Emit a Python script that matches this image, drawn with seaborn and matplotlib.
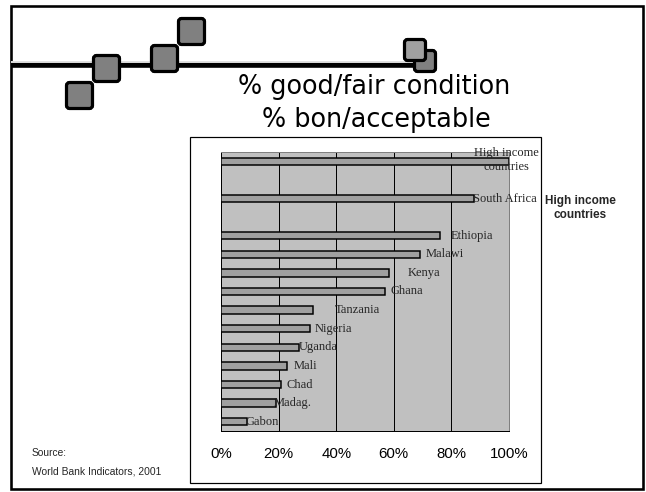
import matplotlib
matplotlib.use("Agg")
import matplotlib.pyplot as plt
from matplotlib.patches import Rectangle, FancyBboxPatch
import pandas as pd
import seaborn as sns

# Share of roads in good or fair condition
countries = ["High income\ncountries", "South Africa", "Ethiopia", "Malawi", "Kenya",
             "Ghana", "Tanzania", "Nigeria", "Uganda", "Mali", "Chad", "Madag.", "Gabon"]
condition_pct = [100, 88, 76, 69, 58.5, 57, 32, 31, 27, 23, 21, 19, 9]
tick_values = [0, 20, 40, 60, 80, 100]
tick_labels = ["0%", "20%", "40%", "60%", "80%", "100%"]

# where each country name sits along the value axis (percent)
label_centers = [99, 98.6, 87.2, 77.8, 70.5, 64.6, 47.2, 39.2, 33.7, 29.2, 27.4, 25.0, 14.2]

sns.set_theme(style="white")
plt.rcParams["font.family"] = ["Liberation Sans", "DejaVu Sans"]

W, H = 646, 492
PT = 0.72  # points per pixel at 100 dpi
fig = plt.figure(figsize=(W / 100, H / 100), dpi=100)
fig.patch.set_facecolor("white")

# ---- slide layer, in pixel coordinates ----
deco = fig.add_axes([0, 0, 1, 1])
deco.set_xlim(0, W)
deco.set_ylim(H, 0)
deco.axis("off")

deco.add_patch(Rectangle((11, 6), 632, 483, fill=False, ec="black", lw=2.6 * PT, zorder=0))

# double rule across the top
deco.plot([11, 415], [63.6, 63.6], color="black", lw=6.6 * PT, solid_capstyle="butt", zorder=1)
deco.plot([11, 415], [62.4, 62.4], color="white", lw=1.7 * PT, solid_capstyle="butt", zorder=1)


def square(x0, y0, size, fc):
    deco.add_patch(FancyBboxPatch((x0 + 1.5, y0 + 1.5), size - 3, size - 3,
                                  boxstyle="round,pad=0,rounding_size=3",
                                  fc=fc, ec="black", lw=3.2 * PT, zorder=2))


square(65, 81, 29, "#808080")
square(92, 54, 29, "#808080")
square(150, 44, 29, "#808080")
square(177, 17, 29, "#808080")
square(413, 49, 24, "#808080")
square(403, 38, 24, "#a0a0a0")

deco.text(374, 94, "% good/fair condition", ha="center", va="baseline",
          fontsize=18.4, family=["DejaVu Sans"], color="black")
deco.text(376, 127, "% bon/acceptable", ha="center", va="baseline",
          fontsize=18.4, family=["DejaVu Sans"], color="black")

# chart frame
deco.add_patch(Rectangle((190, 137), 351, 346, fc="white", ec="black", lw=1.2 * PT, zorder=1))

deco.text(580, 208, "High income\ncountries", ha="center", va="center",
          fontsize=8.5, fontweight="bold", linespacing=1.15, zorder=3)

deco.text(32, 453, "Source:", ha="left", va="center", fontsize=7.4, zorder=3)
deco.text(32, 472, "World Bank Indicators, 2001", ha="left", va="center", fontsize=7.4, zorder=3)

# ---- bar chart ----
ax = fig.add_axes([221 / W, 61 / H, 288 / W, 279 / H])
df = pd.DataFrame({"country": countries, "pct": condition_pct})
order = [countries[0], " ", countries[1], "  "] + countries[2:]

sns.barplot(data=df, x="pct", y="country", order=order, orient="h",
            color="#a0a0a0", saturation=1, width=0.4,
            edgecolor="black", linewidth=1.5 * PT, ax=ax, zorder=3)

ax.set_facecolor("#c0c0c0")
ax.set_xlim(0, 100)
ax.set_ylim(len(order) - 0.5, -0.5)
ax.set_xticks(tick_values)
ax.set_xticklabels(tick_labels)
ax.set_yticks([])
ax.set_xlabel("")
ax.set_ylabel("")
ax.grid(axis="x", color="black", lw=1 * PT)
ax.grid(axis="y", visible=False)
ax.set_axisbelow(True)

for side in ["top", "right"]:
    ax.spines[side].set_color("#808080")
    ax.spines[side].set_linewidth(1 * PT)
for side in ["left", "bottom"]:
    ax.spines[side].set_color("black")
    ax.spines[side].set_linewidth(1 * PT)

ax.tick_params(axis="x", direction="out", length=5 * PT, width=1 * PT, color="black",
               pad=8, labelsize=10.8, labelcolor="black")
ax.tick_params(axis="y", length=0)

for name, xc in zip(countries, label_centers):
    ax.text(xc, order.index(name) - (0.08 if "\n" in name else 0), name,
            ha="center", va="center",
            family=["Liberation Serif", "DejaVu Serif"], fontsize=9,
            linespacing=1.2, clip_on=False, zorder=5)

fig.savefig("out.png", dpi=100)
